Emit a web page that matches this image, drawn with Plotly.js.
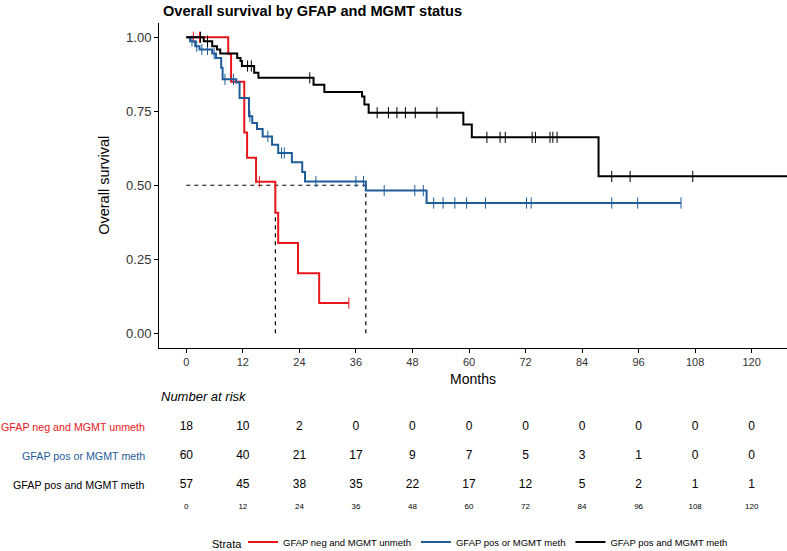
<!DOCTYPE html>
<html>
<head>
<meta charset="utf-8">
<script src="https://cdn.plot.ly/plotly-3.0.1.min.js"></script>
<style>html,body{margin:0;padding:0;background:#fff;overflow:hidden;width:100%;height:100%;}#chart{width:100vw;height:100vh;overflow:hidden;}</style>
</head>
<body>
<div id="chart"></div>
<script>
// ---- Data ----
const strata = ["GFAP neg and MGMT unmeth", "GFAP pos or MGMT meth", "GFAP pos and MGMT meth"];
const colors = ["#E8161B", "#1F5C99", "#000000"];

// Event times (months) and survival after each step
const redTimes = [8.9, 9.5, 12.3, 12.9, 14.8, 18.9, 19.5, 23.7, 28.2];
const redSurv  = [0.944, 0.85, 0.678, 0.593, 0.512, 0.407, 0.305, 0.203, 0.102];
const redEnd = 34.5;
const redCensor = [1.5, 2.8, 15.5, 34.5];

const blueTimes = [0.8, 1.9, 2.8, 5.5, 6.3, 7.4, 7.7, 10.6, 11.3, 13.3, 14.0, 15.0, 16.2, 18.2, 19.5, 22.4, 24.6, 25.2, 38.1, 51.0];
const blueSurv  = [0.987, 0.97, 0.959, 0.945, 0.93, 0.897, 0.858, 0.847, 0.795, 0.733, 0.71, 0.69, 0.665, 0.637, 0.609, 0.578, 0.545, 0.513, 0.482, 0.44];
const blueEnd = 105.0;
const blueCensor = [1.2, 2.2, 3.3, 4.5, 5.9, 8.2, 10.0, 13.5, 17.3, 20.2, 20.8, 27.5, 36.0, 37.6, 42.0, 48.5, 50.3, 52.5, 54.5, 57.0, 59.5, 63.5, 72.2, 73.2, 90.3, 95.8, 105.0];

const blackTimes = [3.7, 5.5, 6.5, 7.2, 10.8, 11.5, 11.8, 14.4, 15.3, 27.0, 29.3, 37.3, 37.8, 38.7, 58.8, 60.6, 87.5];
const blackSurv  = [0.987, 0.97, 0.959, 0.945, 0.93, 0.92, 0.903, 0.88, 0.863, 0.84, 0.815, 0.80, 0.773, 0.745, 0.705, 0.662, 0.53];
const blackEnd = 130;
const blackCensor = [3.0, 4.5, 13.0, 13.8, 26.2, 40.5, 42.9, 44.7, 46.5, 48.6, 53.2, 63.8, 66.6, 67.7, 73.4, 74.1, 77.2, 77.8, 78.7, 90.3, 94.2, 107.5];

// Number at risk table
const riskMonths = [0, 12, 24, 36, 48, 60, 72, 84, 96, 108, 120];
const riskRed   = [18, 10, 2, 0, 0, 0, 0, 0, 0, 0, 0];
const riskBlue  = [60, 40, 21, 17, 9, 7, 5, 3, 1, 0, 0];
const riskBlack = [57, 45, 38, 35, 22, 17, 12, 5, 2, 1, 1];

const xTicks = [0, 12, 24, 36, 48, 60, 72, 84, 96, 108, 120];
const yTicks = [0, 0.25, 0.5, 0.75, 1.0];
const yTickText = ["0.00", "0.25", "0.50", "0.75", "1.00"];

// ---- Build traces ----
const FONT = "Liberation Sans, Arial, sans-serif";
const groups = [
  {t: redTimes, s: redSurv, end: redEnd, c: redCensor, risk: riskRed},
  {t: blueTimes, s: blueSurv, end: blueEnd, c: blueCensor, risk: riskBlue},
  {t: blackTimes, s: blackSurv, end: blackEnd, c: blackCensor, risk: riskBlack}
];
function stepAt(times, surv, t) {
  let v = 1;
  for (let i = 0; i < times.length; i++) { if (times[i] <= t) v = surv[i]; }
  return v;
}
const traces = [];
const range = [-5.8, 127.5];

// median lines
const medians = [];
groups.forEach(g => {
  for (let i = 0; i < g.t.length; i++) { if (g.s[i] <= 0.5) { medians.push(g.t[i]); break; } }
});
const dashLine = {color: "#000", width: 1.2, dash: "4px,4px"};
if (medians.length) {
  const mx = Math.max(...medians);
  traces.push({x: [0, mx], y: [0.5, 0.5], mode: "lines", line: dashLine, showlegend: false, hoverinfo: "skip"});
  medians.forEach(m => traces.push({x: [m, m], y: [0.5, 0], mode: "lines", line: dashLine, showlegend: false, hoverinfo: "skip"}));
}

groups.forEach((g, k) => {
  const xs = [0].concat(g.t, [g.end]);
  const ys = [1].concat(g.s, [g.s[g.s.length - 1]]);
  traces.push({x: xs, y: ys, mode: "lines", line: {shape: "hv", color: colors[k], width: 2}, name: strata[k], legendrank: k + 1});
  traces.push({x: g.c, y: g.c.map(t => stepAt(g.t, g.s, t)), mode: "markers", showlegend: false,
    marker: {symbol: "line-ns-open", size: 8, color: colors[k], line: {color: colors[k], width: 1}}, hoverinfo: "skip"});
});

// risk table
groups.forEach((g, k) => {
  traces.push({x: riskMonths, y: riskMonths.map(() => 3 - k), text: g.risk.map(String), mode: "text",
    textfont: {family: FONT, size: 12, color: "#000"}, xaxis: "x2", yaxis: "y2", showlegend: false, hoverinfo: "skip"});
});

// reference frame (fractions computed against the 787x551 reference)
const RW = 787, RH = 551;
const W = window.innerWidth || RW, H = window.innerHeight || RH;
const fx = px => px / RW, fy = px => 1 - px / RH;

const annotations = strata.map((s, k) => ({
  text: s, xref: "paper", x: fx(147), xanchor: "right", yref: "y2", y: 3 - k, yanchor: "middle",
  showarrow: false, font: {family: FONT, size: 10.7, color: colors[k]}
}));
annotations.push({text: "<i>Number at risk</i>", xref: "paper", x: fx(159), xanchor: "left", yref: "paper", y: fy(396), yanchor: "middle",
  showarrow: false, font: {family: FONT, size: 13, color: "#000"}});
annotations.push({text: "Strata", xref: "paper", x: fx(210), xanchor: "left", yref: "paper", y: fy(544), yanchor: "middle",
  showarrow: false, font: {family: FONT, size: 11, color: "#000"}});

const layout = {
  width: W, height: H,
  margin: {l: 0, r: 0, t: 0, b: 0, autoexpand: false},
  paper_bgcolor: "#fff", plot_bgcolor: "#fff",
  font: {family: FONT, color: "#000"},
  title: {text: "<b>Overall survival by GFAP and MGMT status</b>", x: fx(163), xanchor: "left", xref: "paper",
    y: fy(11), yanchor: "middle", yref: "paper", font: {family: FONT, size: 14.6, color: "#000"}},
  xaxis: {domain: [fx(159), 1], range: range, tickvals: xTicks, ticks: "outside", ticklen: 4, tickcolor: "#000",
    showline: true, linecolor: "#000", linewidth: 1, showgrid: false, zeroline: false,
    tickfont: {family: FONT, size: 11, color: "#333"}, anchor: "y",
    title: {text: "Months", standoff: 6, font: {family: FONT, size: 14, color: "#000"}}},
  yaxis: {domain: [fy(348), fy(22.5)], range: [-0.05, 1.05], tickvals: yTicks, ticktext: yTickText,
    ticks: "outside", ticklen: 4, tickcolor: "#000", showline: true, linecolor: "#000", linewidth: 1,
    showgrid: false, zeroline: false, tickfont: {family: FONT, size: 13, color: "#333"}, anchor: "x",
    title: {text: "Overall survival", standoff: 13, font: {family: FONT, size: 14.5, color: "#000"}}},
  xaxis2: {domain: [fx(159), 1], range: range, tickvals: xTicks, ticks: "", showline: false, showgrid: false,
    zeroline: false, tickfont: {family: FONT, size: 8, color: "#000"}, anchor: "y2"},
  yaxis2: {domain: [fy(499.5), fy(412.5)], range: [0.5, 3.5], showticklabels: false, ticks: "",
    showline: false, showgrid: false, zeroline: false, anchor: "x2"},
  showlegend: true,
  legend: {orientation: "h", x: fx(243), xanchor: "left", y: fy(542), yanchor: "middle",
    font: {family: FONT, size: 9.5, color: "#000"}, bgcolor: "rgba(0,0,0,0)", traceorder: "normal"},
  annotations: annotations
};

Plotly.newPlot("chart", traces, layout, {displayModeBar: false, staticPlot: true});
</script>
</body>
</html>
